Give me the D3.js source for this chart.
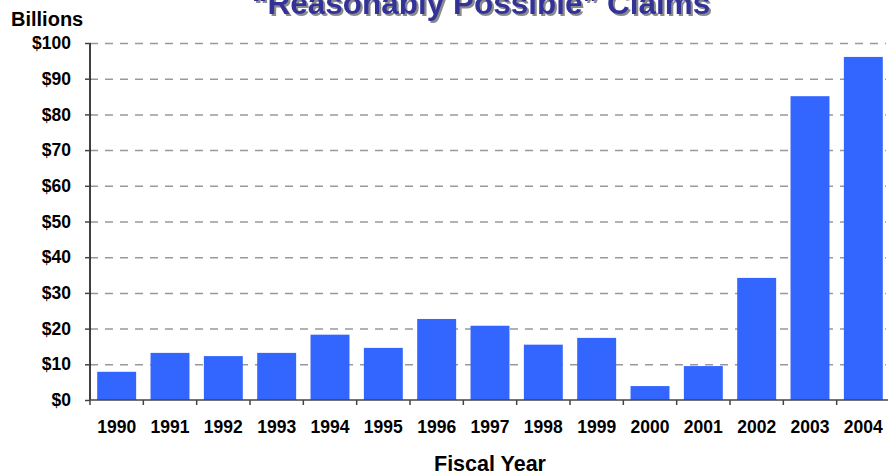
<!DOCTYPE html>
<html>
<head>
<meta charset="utf-8">
<script src="https://cdn.jsdelivr.net/npm/d3@7"></script>
<style>
  body { margin: 0; background: #fff; }
  svg { display: block; font-family: 'Liberation Sans', Arial, sans-serif; }
</style>
</head>
<body>
<svg id="chart" width="888" height="476"></svg>
<script>
// data (billions of dollars)
const years = ['1990', '1991', '1992', '1993', '1994', '1995', '1996', '1997',
  '1998', '1999', '2000', '2001', '2002', '2003', '2004']
const claims = [7.9, 13.2, 12.3, 13.2, 18.3, 14.6, 22.7, 20.8,
  15.5, 17.4, 3.9, 9.5, 34.2, 85.1, 96.1]
const yTicks = [0, 10, 20, 30, 40, 50, 60, 70, 80, 90, 100]

const W = 888
const H = 476
const MARGIN = { top: 43, bottom: 76, left: 90, right: -2 }
const BAR_COLOR = '#3366ff'

const svg = d3.select('#chart')
const innerHt = H - MARGIN.top - MARGIN.bottom

const x = d3.scaleBand()
  .domain(years)
  .range([MARGIN.left, W - MARGIN.right])
  .paddingInner(0.27)
  .paddingOuter(0.135)
const y = d3.scaleLinear()
  .domain([0, 100])
  .range([MARGIN.top + innerHt, MARGIN.top])

// Shadow for the title
svg.append('defs')
  .append('filter')
  .attr('id', 'shadow')
  .attr('x', '-5%').attr('y', '-50%')
  .attr('width', '110%').attr('height', '200%')
  .append('feDropShadow')
  .attr('dx', 2)
  .attr('dy', 2)
  .attr('stdDeviation', 0.6)
  .attr('flood-color', '#8a8a8a')

// Title (top is cut off in the original)
svg.append('text')
  .attr('x', 481)
  .attr('y', 14)
  .attr('text-anchor', 'middle')
  .attr('font-size', 31.5)
  .attr('font-weight', 'bold')
  .attr('fill', '#333399')
  .attr('filter', 'url(#shadow)')
  .text('\u201cReasonably Possible\u201d Claims')

// Units label
svg.append('text')
  .attr('x', 11)
  .attr('y', 26)
  .attr('font-size', 20)
  .attr('font-weight', 'bold')
  .text('Billions')

// Gridlines
svg.append('g')
  .selectAll('line')
  .data(yTicks.filter(d => d > 0))
  .enter()
  .append('line')
  .attr('x1', MARGIN.left)
  .attr('x2', 886)
  .attr('y1', d => y(d) + 0.5)
  .attr('y2', d => y(d) + 0.5)
  .attr('stroke', '#999')
  .attr('stroke-width', 1.5)
  .attr('stroke-dasharray', '8,7')

// Bars
svg.append('g')
  .selectAll('rect')
  .data(claims)
  .enter()
  .append('rect')
  .attr('x', (d, i) => x(years[i]))
  .attr('y', d => y(d))
  .attr('width', x.bandwidth())
  .attr('height', d => y(0) - y(d))
  .attr('fill', BAR_COLOR)

// Y axis
const yAxis = svg.append('g')
  .attr('transform', 'translate(' + MARGIN.left + ',0)')
  .call(d3.axisLeft(y).tickValues(yTicks).tickSize(5).tickPadding(14)
    .tickFormat(d => '$' + d))
yAxis.select('.domain').attr('stroke', '#000').attr('stroke-width', 1.5)
  .attr('d', 'M0,' + y(100) + 'V' + y(0))
yAxis.selectAll('.tick line').attr('stroke', '#444').attr('stroke-width', 1.5)
yAxis.selectAll('.tick text')
  .attr('font-size', 17.5)
  .attr('font-weight', 'bold')
  .attr('fill', '#000')
  .attr('font-family', null)

// X axis line and boundary ticks
const half = x.step() * x.paddingInner() / 2
svg.append('line')
  .attr('x1', MARGIN.left)
  .attr('x2', W)
  .attr('y1', y(0))
  .attr('y2', y(0))
  .attr('stroke', '#444')
  .attr('stroke-width', 1.5)
svg.append('g')
  .selectAll('line')
  .data(years)
  .enter()
  .append('line')
  .attr('x1', d => x(d) - half)
  .attr('x2', d => x(d) - half)
  .attr('y1', y(0))
  .attr('y2', y(0) + 5)
  .attr('stroke', '#444')
  .attr('stroke-width', 1.5)

// X labels
svg.append('g')
  .selectAll('text')
  .data(years)
  .enter()
  .append('text')
  .attr('x', d => x(d) + x.bandwidth() / 2)
  .attr('y', 433)
  .attr('text-anchor', 'middle')
  .attr('font-size', 17.5)
  .attr('font-weight', 'bold')
  .text(d => d)

// X axis title
svg.append('text')
  .attr('x', 490)
  .attr('y', 471)
  .attr('text-anchor', 'middle')
  .attr('font-size', 21.5)
  .attr('font-weight', 'bold')
  .text('Fiscal Year')
</script>
</body>
</html>
